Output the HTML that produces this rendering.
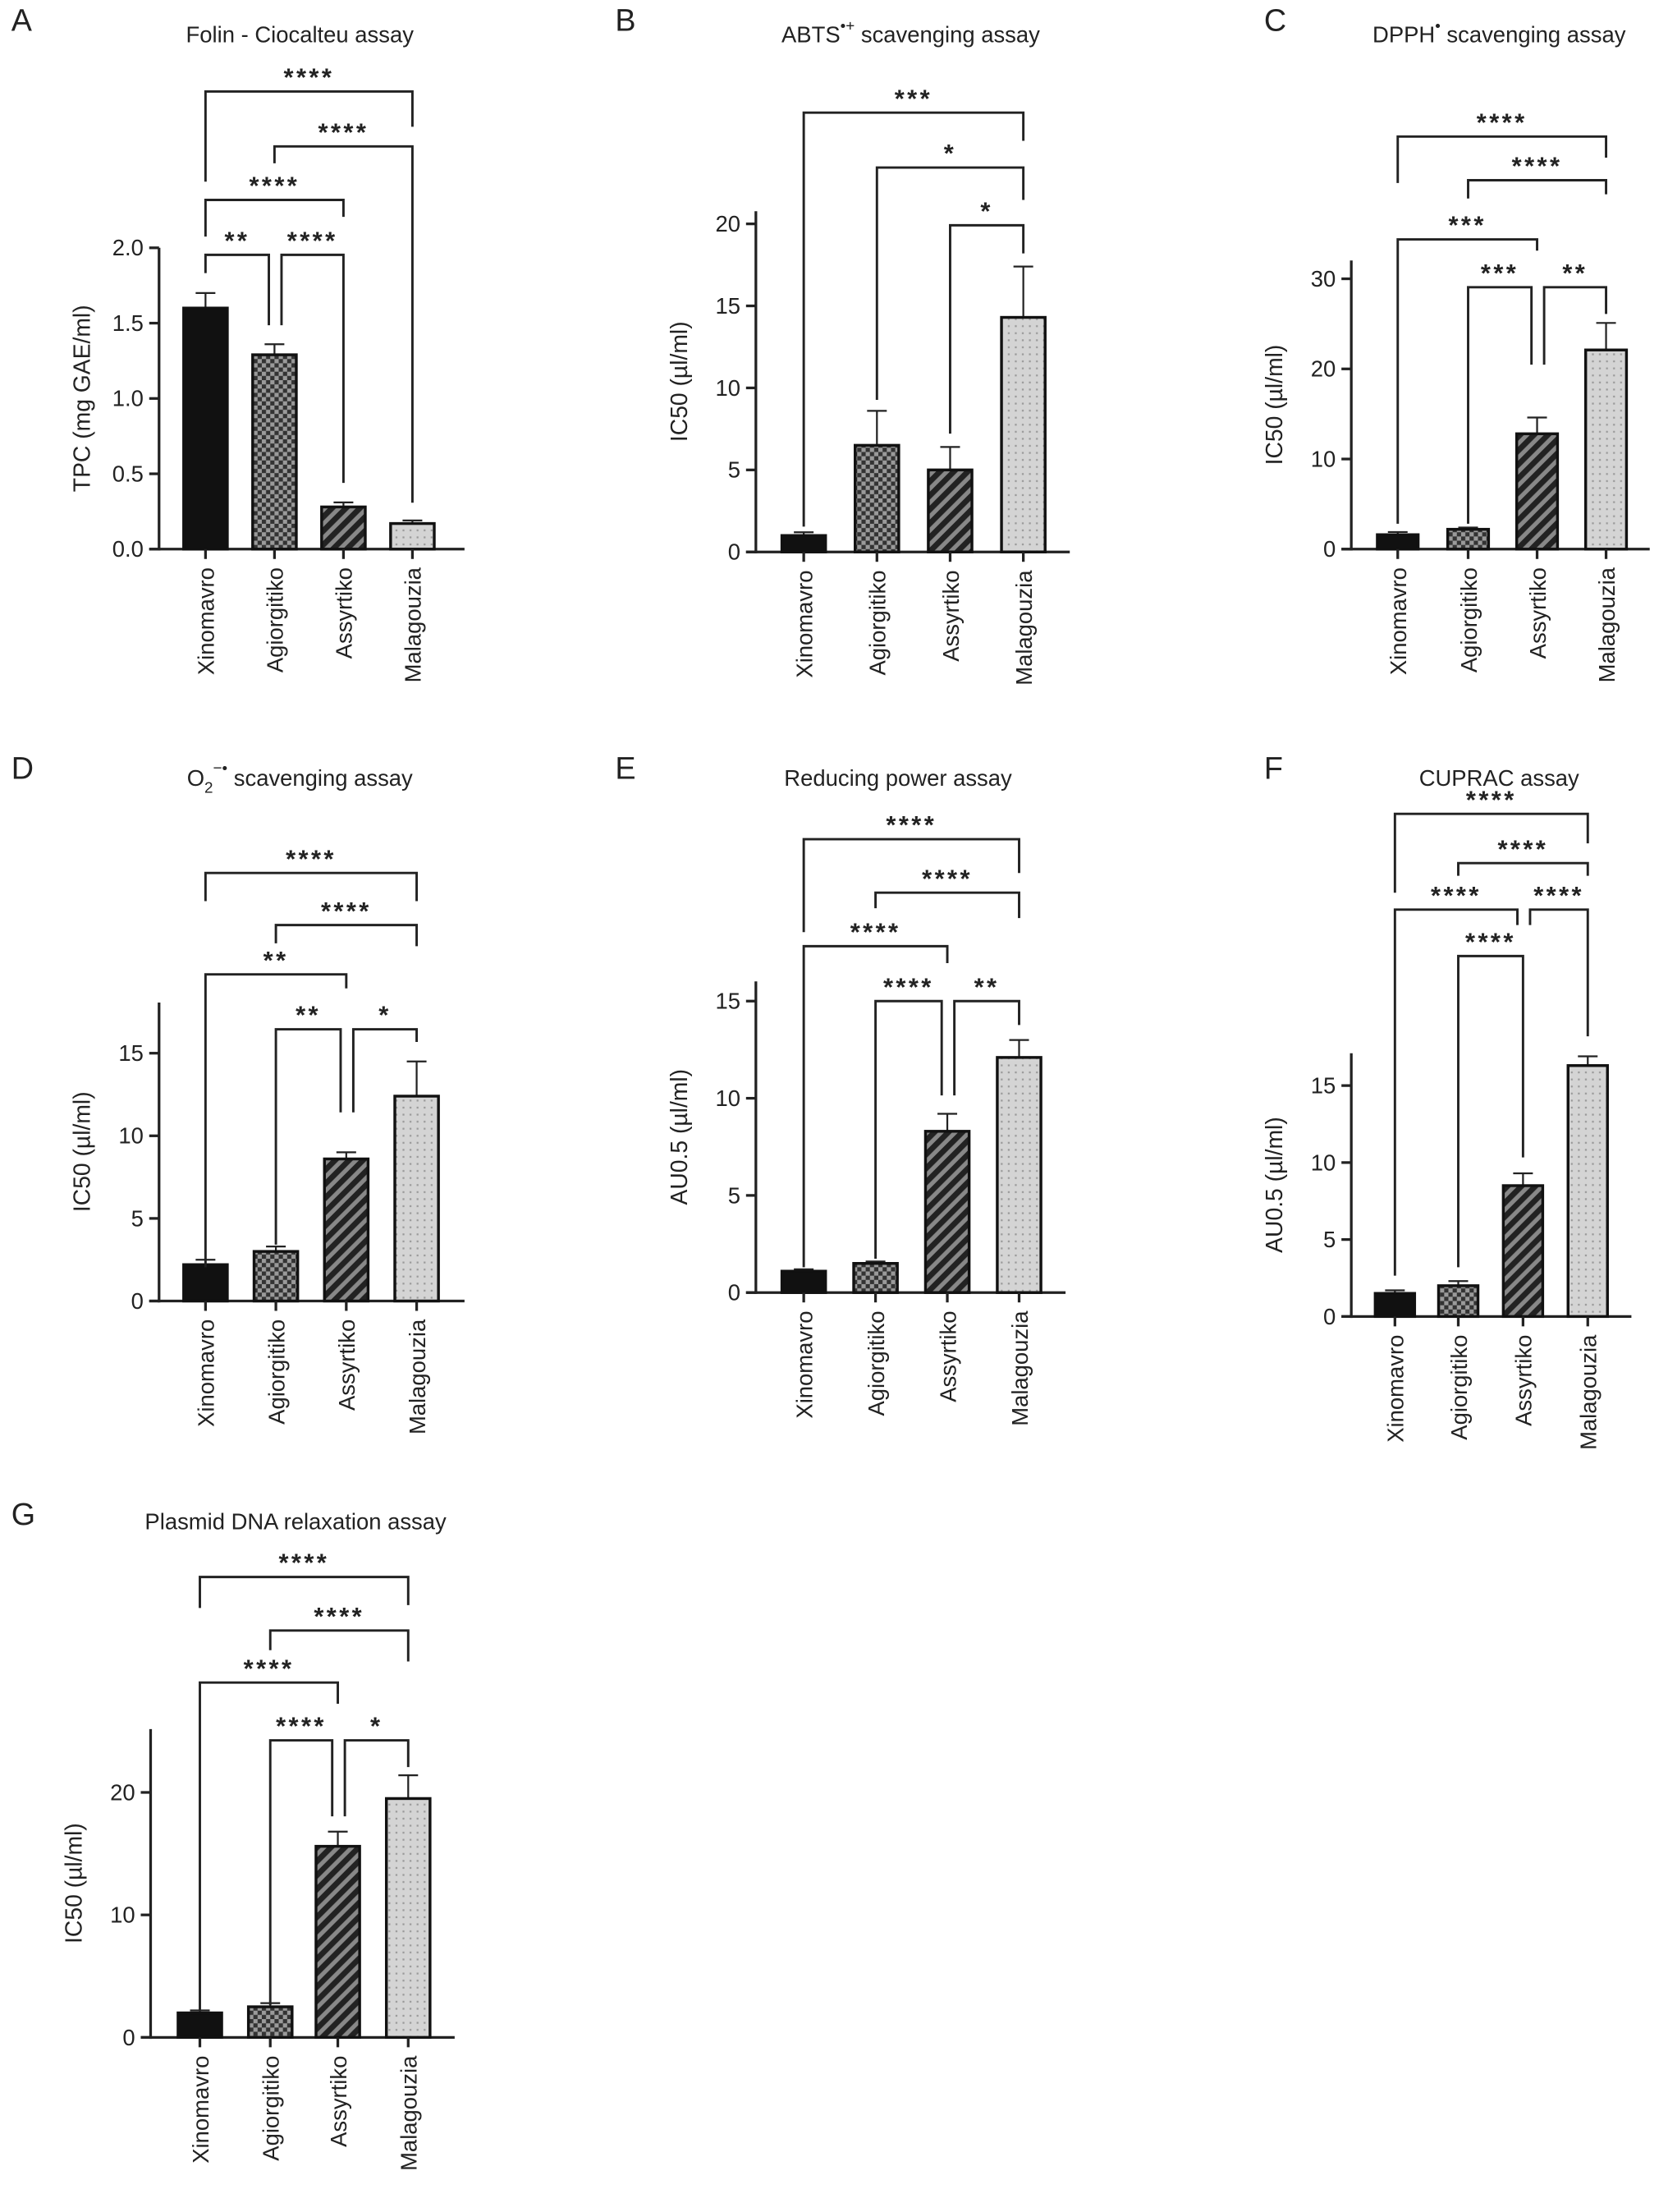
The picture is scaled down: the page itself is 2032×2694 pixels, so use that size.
<!DOCTYPE html>
<html><head><meta charset="utf-8"><style>
html,body{margin:0;padding:0;background:#fff;}
svg{display:block;}
text{font-family:"Liberation Sans",Arial,sans-serif;fill:#222;}
</style></head><body>
<svg id="fig" width="2032" height="2694" viewBox="0 0 1185 1571" preserveAspectRatio="none" xmlns="http://www.w3.org/2000/svg">
<defs>
<pattern id="pChk" width="6" height="6" patternUnits="userSpaceOnUse"><rect width="6" height="6" fill="#333"/><rect width="3" height="3" fill="#9a9a9a"/><rect x="3" y="3" width="3" height="3" fill="#9a9a9a"/></pattern>
<pattern id="pDiag" width="7" height="7" patternUnits="userSpaceOnUse" patternTransform="rotate(45)"><rect width="7" height="7" fill="#888"/><rect width="4" height="7" fill="#222"/></pattern>
<pattern id="pDot" width="5" height="5" patternUnits="userSpaceOnUse"><rect width="5" height="5" fill="#d4d4d4"/><rect x="1" y="1" width="1.3" height="1.3" fill="#999"/></pattern>
</defs>
</svg>
<script>
const cats=["Xinomavro","Agiorgitiko","Assyrtiko","Malagouzia"];
const valsA=[1.60,1.29,0.28,0.17]; const errA=[0.10,0.07,0.03,0.02];
const ticksA=[0,0.5,1,1.5,2]; const tickLabA=["0.0","0.5","1.0","1.5","2.0"];
const sigA=["****","****","****","**","****"];
const valsB=[1.0,6.5,5.0,14.3]; const errB=[0.2,2.1,1.4,3.1];
const ticksB=[0,5,10,15,20]; const tickLabB=["0","5","10","15","20"];
const sigB=["***","*","*"];
const valsC=[1.6,2.2,12.8,22.1]; const errC=[0.3,0.2,1.8,3.0];
const ticksC=[0,10,20,30]; const tickLabC=["0","10","20","30"];
const sigC=["****","****","***","***","**"];
const valsD=[2.2,3.0,8.6,12.4]; const errD=[0.3,0.3,0.4,2.1];
const ticksD=[0,5,10,15]; const tickLabD=["0","5","10","15"];
const sigD=["****","****","**","**","*"];
const valsE=[1.1,1.5,8.3,12.1]; const errE=[0.1,0.1,0.9,0.9];
const ticksE=[0,5,10,15]; const tickLabE=["0","5","10","15"];
const sigE=["****","****","****","****","**"];
const valsF=[1.5,2.0,8.5,16.3]; const errF=[0.2,0.3,0.8,0.6];
const ticksF=[0,5,10,15]; const tickLabF=["0","5","10","15"];
const sigF=["****","****","****","****","****"];
const valsG=[2.0,2.5,15.6,19.5]; const errG=[0.2,0.3,1.2,1.9];
const ticksG=[0,10,20]; const tickLabG=["0","10","20"];
const sigG=["****","****","****","****","*"];

const fills=["#111","url(#pChk)","url(#pDiag)","url(#pDot)"];
const NS="http://www.w3.org/2000/svg";
const svg=document.getElementById('fig');
function mk(tag,attrs,parent){const e=document.createElementNS(NS,tag);for(const k in attrs)e.setAttribute(k,attrs[k]);(parent||svg).appendChild(e);return e;}

const panels=[
{id:'a',letter:'A',lx:8,ly:22,title:'Folin - Ciocalteu assay',tx:213,ty:30,ylab:'TPC (mg GAE/ml)',ax:113,y0:390,ytPx:176,ytVal:2,axTop:176,bx:[146,195,244,293],xEnd:330,bw:31,vals:valsA,err:errA,ticks:ticksA,tl:tickLabA,sig:sigA,
 br:[[0,3,65,129,90,0,0],[1,3,104,116,357,0,0],[0,2,142,168,154,0,0],[0,1,181,194,231,0,-4],[1,2,181,231,343,5,0]]},
{id:'b',letter:'B',lx:437,ly:22,title:'ABTS',sup:'•+',tail:' scavenging assay',tx:647,ty:30,ylab:'IC50 (µl/ml)',ax:537,y0:392,ytPx:159,ytVal:20,axTop:150,bx:[571,623,675,727],xEnd:760,bw:31,vals:valsB,err:errB,ticks:ticksB,tl:tickLabB,sig:sigB,
 br:[[0,3,80,374,100,0,0],[1,3,119,284,142,0,0],[2,3,160,308,180,0,0]]},
{id:'c',letter:'C',lx:898,ly:22,title:'DPPH',sup:'•',tail:' scavenging assay',tx:1065,ty:30,ylab:'IC50 (µl/ml)',ax:960,y0:390,ytPx:198,ytVal:30,axTop:185,bx:[993,1043,1092,1141],xEnd:1172,bw:29,vals:valsC,err:errC,ticks:ticksC,tl:tickLabC,sig:sigC,
 br:[[0,3,97,130,112,0,0],[1,3,128,141,138,0,0],[0,2,170,372,178,0,0],[1,2,204,372,259,0,-4],[2,3,204,259,223,5,0]]},
{id:'d',letter:'D',lx:8,ly:553,title:'O',sub:'2',sup:'−•',tail:' scavenging assay',tx:213,ty:558,ylab:'IC50 (µl/ml)',ax:113,y0:924,ytPx:748,ytVal:15,axTop:712,bx:[146,196,246,296],xEnd:330,bw:31,vals:valsD,err:errD,ticks:ticksD,tl:tickLabD,sig:sigD,
 br:[[0,3,620,640,640,0,0],[1,3,657,670,672,0,0],[0,2,692,900,702,0,0],[1,2,731,884,790,0,-4],[2,3,731,790,740,5,0]]},
{id:'e',letter:'E',lx:437,ly:553,title:'Reducing power assay',tx:638,ty:558,ylab:'AU0.5 (µl/ml)',ax:537,y0:918,ytPx:711,ytVal:15,axTop:697,bx:[571,622,673,724],xEnd:757,bw:31,vals:valsE,err:errE,ticks:ticksE,tl:tickLabE,sig:sigE,
 br:[[0,3,596,662,620,0,0],[1,3,634,645,652,0,0],[0,2,672,900,684,0,0],[1,2,711,894,778,0,-4],[2,3,711,778,728,5,0]]},
{id:'f',letter:'F',lx:898,ly:553,title:'CUPRAC assay',tx:1065,ty:558,ylab:'AU0.5 (µl/ml)',ax:960,y0:935,ytPx:771,ytVal:15,axTop:748,bx:[991,1036,1082,1128],xEnd:1159,bw:28,vals:valsF,err:errF,ticks:ticksF,tl:tickLabF,sig:sigF,
 br:[[0,3,578,634,599,0,0],[1,3,613,622,622,0,0],[0,2,646,906,657,0,-4],[2,3,646,657,736,5,0],[1,2,679,900,822,0,0]]},
{id:'g',letter:'G',lx:8,ly:1083,title:'Plasmid DNA relaxation assay',tx:210,ty:1086,ylab:'IC50 (µl/ml)',ax:107,y0:1447,ytPx:1273,ytVal:20,axTop:1228,bx:[142,192,240,290],xEnd:323,bw:31,vals:valsG,err:errG,ticks:ticksG,tl:tickLabG,sig:sigG,
 br:[[0,3,1120,1142,1140,0,0],[1,3,1158,1172,1180,0,0],[0,2,1195,1428,1210,0,0],[1,2,1236,1424,1290,0,-4],[2,3,1236,1290,1255,5,0]]}
];

panels.forEach(p=>{
  const g=mk('g',{});
  
  
  const yS=v=>p.y0-(v/p.ytVal)*(p.y0-p.ytPx);
  const L=mk('text',{x:p.lx,y:p.ly,'font-size':22},g); L.textContent=p.letter;
  
  
  const T=mk('text',{x:p.tx,y:p.ty,'font-size':16,'text-anchor':'middle'},g);
  
  
  const t1=mk('tspan',{},T); t1.textContent=p.title;
  if(p.sub){const s=mk('tspan',{'font-size':11,dy:5},T);s.textContent=p.sub;}
  if(p.sup){const s=mk('tspan',{'font-size':11,dy:p.sub?-14:-8},T);s.textContent=p.sup;}
  if(p.tail){const s=mk('tspan',{dy:p.sub?9:8},T);s.textContent=p.tail;}
  const ya=mk('line',{x1:p.ax,y1:p.axTop,x2:p.ax,y2:p.y0+1,stroke:'#222','stroke-width':1.9},g);
  
  
  const xa=mk('line',{x1:p.ax-7,y1:p.y0,x2:p.xEnd,y2:p.y0,stroke:'#222','stroke-width':1.9},g);
  
  
  p.ticks.forEach((t,k)=>{
    const y=yS(t);
    mk('line',{x1:p.ax-7,y1:y,x2:p.ax,y2:y,stroke:'#222','stroke-width':1.9},g);
    const tt=mk('text',{x:p.ax-11,y:y+5.5,'font-size':16,'text-anchor':'end'},g);
    tt.textContent=p.tl[k];
    
    
  });
  const ymid=(p.y0+p.axTop)/2;
  const yl=mk('text',{x:0,y:0,'font-size':16.5,'text-anchor':'middle',transform:`translate(${p.ax-49},${ymid}) rotate(-90)`},g);
  yl.textContent=p.ylab;
  
  
  cats.forEach((c,i)=>{
    const x=p.bx[i], v=p.vals[i], e=p.err[i], yt=yS(v);
    const eb=mk('line',{x1:x,y1:yt,x2:x,y2:yS(v+e),stroke:'#222','stroke-width':1.3},g);
    
    
    mk('line',{x1:x-7,y1:yS(v+e),x2:x+7,y2:yS(v+e),stroke:'#222','stroke-width':1.3},g);
    const r=mk('rect',{x:x-p.bw/2,y:yt,width:p.bw,height:p.y0-yt,fill:fills[i],stroke:'#111','stroke-width':2},g);
    
    
    mk('line',{x1:x,y1:p.y0,x2:x,y2:p.y0+7,stroke:'#222','stroke-width':1.9},g);
    const cl=mk('text',{x:0,y:0,'font-size':16,'text-anchor':'end',transform:`translate(${x+6},${p.y0+13}) rotate(-90)`},g);
    cl.textContent=c;
    
    
  });
  p.br.forEach((b,k)=>{
    const [i,j,y,le,re,dxl,dxr]=b;
    const x1=p.bx[i]+dxl, x2=p.bx[j]+dxr;
    const pl=mk('polyline',{points:`${x1},${le} ${x1},${y} ${x2},${y} ${x2},${re}`,fill:'none',stroke:'#222','stroke-width':1.7},g);
    
    
    const st=mk('text',{x:(x1+x2)/2,y:y-4,'font-size':18,'font-weight':'bold','text-anchor':'middle','letter-spacing':'2'},g);
    st.textContent=p.sig[k];
    
    
  });
});
</script>
</body></html>
